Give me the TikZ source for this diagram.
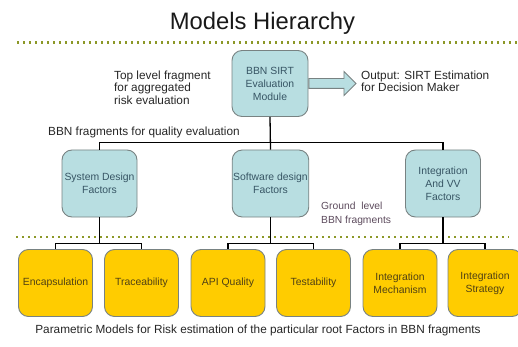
\documentclass[tikz,border=0pt]{standalone}
\usepackage{fontspec}
\setmainfont{Liberation Sans}
\usepackage{tikz}
\usetikzlibrary{calc, positioning, shapes.arrows}
\definecolor{boxteal}{RGB}{184,222,225}
\definecolor{boxgold}{RGB}{255,204,0}
\definecolor{boxedge}{RGB}{120,130,130}
\definecolor{dotolive}{RGB}{140,152,40}
\definecolor{tealtext}{RGB}{55,85,100}
\definecolor{goldtext}{RGB}{80,65,20}
\definecolor{groundtext}{RGB}{92,74,92}
\tikzstyle{fbox}=[draw=boxedge, line width=0.9pt, rounded corners=10pt, minimum width=75pt, minimum height=67pt, inner sep=1pt, align=center, font=\fontsize{10.4}{13}\selectfont]
\tikzstyle{qbox}=[fbox, fill=boxteal, text=tealtext]
\tikzstyle{rbox}=[fbox, fill=boxgold, text=goldtext, minimum width=74pt]
\tikzstyle{note}=[inner sep=0pt, align=left, font=\fontsize{11.8}{12.5}\selectfont, text=black!85]
\tikzstyle{dotline}=[dotolive, line width=2.4pt, dash pattern=on 2.4pt off 3.6pt]
\tikzstyle{link}=[line width=1.3pt]
\tikzset{>=stealth}

\begin{document}
\begin{tikzpicture}[x=1pt, y=-1pt]
\useasboundingbox (0,0) rectangle (518,347);

\node[anchor=base, font=\fontsize{23.8}{26}\selectfont, text=black!90] (title) at (262.5,30) {Models Hierarchy};

\coordinate (d1a) at (17,42.5);
\coordinate (d1b) at (518,42.5);
\coordinate (d2a) at (16,237);
\coordinate (d2b) at (509,237);
\draw[dotline] (d1a) -- (d1b);
\draw[dotline] (d2a) -- (d2b);

% top level fragment
\node[qbox, minimum width=76pt, minimum height=66pt] (top) at (270,83.5) {BBN SIRT\\Evaluation\\Module};
\node[single arrow, draw=boxedge, fill=boxteal, line width=0.9pt, inner xsep=0pt, inner ysep=4.5pt, minimum height=47pt, single arrow head extend=7pt, anchor=tail] (out) at (top.east) {};
\node[note, anchor=west] (toptxt) at (114,87.5) {Top level fragment\\for aggregated\\risk evaluation};
\node[note, anchor=west] (outtxt) at (361,81.5) {Output: SIRT Estimation\\for Decision Maker};
\node[note, anchor=base west] (midtxt) at (48,136) {BBN fragments for quality evaluation};

% quality fragments
\node[qbox] (sysd) at (99.5,183.5) {System Design\\Factors};
\node[qbox] (swd) at (270.5,183.5) {Software design\\Factors};
\node[qbox] (intv) at (443,183.5) {Integration\\And VV\\Factors};
\node[note, anchor=west, font=\fontsize{10.3}{14}\selectfont, text=groundtext] (gndtxt) at (321,214) {Ground~ level\\BBN fragments};

% root factors
\node[rbox] (enc) at (55.5,283) {Encapsulation};
\node[rbox] (trc) at (141.5,283) {Traceability};
\node[rbox] (api) at (228,283) {API Quality};
\node[rbox] (tst) at (313.5,283) {Testability};
\node[rbox] (imech) at (400,283) {Integration\\Mechanism};
\node[rbox] (istr) at (485,283) {Integration\\Strategy};

\node[note, anchor=center] (captxt) at (258,330) {Parametric Models for Risk estimation of the particular root Factors in BBN fragments};

\coordinate (bus) at (top.south |- 0,142.5);
\draw[link] (top.south) -- (swd.north);
\draw[link] (sysd.north) |- (bus) -| (intv.north);

\draw[link] (sysd.south) -- ++(0,26) coordinate (j1);
\draw[link] (enc.north) |- (j1) -| (trc.north);
\draw[link] (swd.south) -- ++(0,26) coordinate (j2);
\draw[link] (api.north) |- (j2) -| (tst.north);
\draw[link] (intv.south) -- ++(0,26) coordinate (j3);
\draw[link] (imech.north) |- (j3) -| (istr.north);
\end{tikzpicture}
\end{document}
